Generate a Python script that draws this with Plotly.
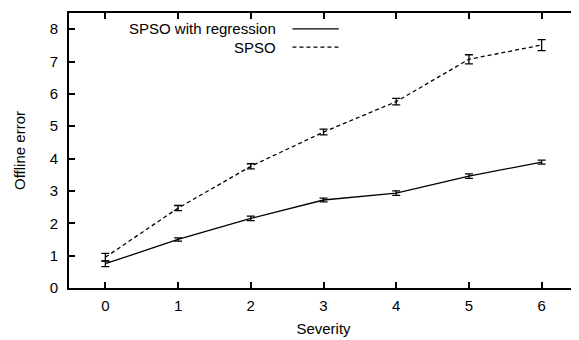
import plotly.graph_objects as go

severity = [0, 1, 2, 3, 4, 5, 6]
spso_reg = [0.75, 1.50, 2.15, 2.72, 2.93, 3.46, 3.89]
spso_reg_err = [0.09, 0.05, 0.07, 0.06, 0.07, 0.07, 0.06]
spso = [0.95, 2.47, 3.76, 4.82, 5.76, 7.07, 7.51]
spso_err = [0.12, 0.08, 0.08, 0.09, 0.10, 0.14, 0.17]
x_ticks = [0, 1, 2, 3, 4, 5, 6]
y_ticks = [0, 1, 2, 3, 4, 5, 6, 7, 8]

fig = go.Figure()
fig.add_trace(go.Scatter(
    x=severity, y=spso_reg, mode="lines", name="SPSO with regression",
    line=dict(color="black", width=1.3),
    error_y=dict(type="data", array=spso_reg_err, color="black", thickness=1.3, width=4),
))
fig.add_trace(go.Scatter(
    x=severity, y=spso, mode="lines", name="SPSO",
    line=dict(color="black", width=1.3, dash="4px,3px"),
    error_y=dict(type="data", array=spso_err, color="black", thickness=1.3, width=4),
))

axis_common = dict(
    showline=True, linecolor="black", linewidth=2, mirror="ticks",
    ticks="inside", ticklen=6, tickwidth=2, tickcolor="black",
    showgrid=False, zeroline=False, automargin=False,
    tickfont=dict(size=15, color="black"),
)
fig.update_xaxes(range=[-0.5, 6.5], tickvals=x_ticks, ticklabelstandoff=3,
                 title=dict(text="Severity", font=dict(size=15, color="black"), standoff=10),
                 **axis_common)
fig.update_yaxes(range=[0, 8.5], tickvals=y_ticks, ticklabelstandoff=6,
                 title=dict(text="Offline error", font=dict(size=15, color="black"), standoff=20),
                 **axis_common)

# legend drawn in gnuplot style (text right-aligned, sample to the right)
legend_rows = [("SPSO with regression", "solid", 0.942), ("SPSO", "4px,3px", 0.876)]
for label, dash, yy in legend_rows:
    fig.add_annotation(xref="paper", yref="paper", x=0.41, y=yy, text=label,
                       showarrow=False, xanchor="right", yanchor="middle",
                       font=dict(size=15, color="black"))
    fig.add_shape(type="line", xref="paper", yref="paper", x0=0.439, x1=0.53, y0=yy, y1=yy,
                  line=dict(color="black", width=1.3, dash=dash))

# page body has an 8px default margin; size the figure so the plot lands where it should
fig.update_layout(
    width=571, height=332,
    margin=dict(l=61, r=1, t=5, b=52),
    paper_bgcolor="white", plot_bgcolor="white",
    font=dict(family="Liberation Sans, Arial, sans-serif", color="black"),
    showlegend=False,
)
fig.write_html("out.html")
